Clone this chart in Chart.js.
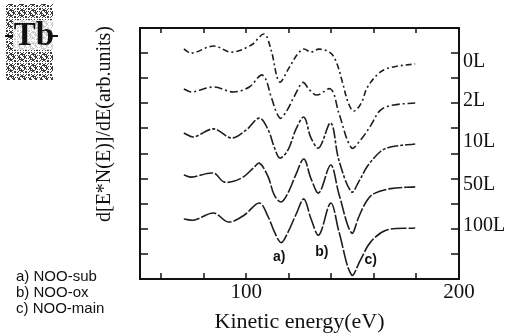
<!DOCTYPE html>
<html>
<head>
<meta charset="utf-8">
<script src="https://cdn.jsdelivr.net/npm/chart.js@4/dist/chart.umd.min.js"></script>
<style>
  html, body { margin: 0; padding: 0; background: #fff; }
  #wrap { width: 511px; height: 336px; }
</style>
</head>
<body>
<div id="wrap"><canvas id="auger"></canvas></div>
<script>
// exposure labels, one per curve (top to bottom)
const exposures = ['0L', '2L', '10L', '50L', '100L'];

// kinetic energy (eV) and offset d[E*N(E)]/dE values
const e0L = [70.6, 74.3, 84.6, 93.0, 102.3, 108.4, 111.7, 115.6, 120.0, 124.0, 127.0, 130.4, 134.1, 139.7, 142.5, 145.0, 148.0, 150.5, 154.0, 157.0, 163.1, 169.2, 179.4];
const v0L = [9.16, 9.00, 9.28, 9.04, 9.32, 9.76, 9.10, 7.85, 8.40, 8.95, 9.16, 9.04, 9.16, 9.00, 8.60, 7.90, 7.00, 6.69, 7.00, 7.65, 8.25, 8.45, 8.57];

const e2L = [70.6, 74.3, 84.6, 93.9, 101.4, 107.0, 109.3, 111.7, 115.8, 119.0, 122.4, 126.6, 129.5, 133.2, 139.7, 143.5, 149.5, 153.7, 158.4, 163.1, 169.2, 179.4];
const v2L = [7.57, 7.45, 7.65, 7.45, 7.65, 8.13, 7.93, 7.25, 6.41, 6.70, 7.25, 7.83, 7.55, 7.33, 7.57, 6.61, 5.22, 5.54, 6.10, 6.73, 6.93, 7.01];

const e10L = [70.6, 75.2, 84.6, 93.0, 100.0, 106.1, 110.3, 113.1, 115.8, 119.6, 123.4, 127.1, 130.4, 134.1, 139.7, 143.5, 149.5, 153.0, 157.0, 163.1, 167.8, 179.4];
const v10L = [5.82, 5.66, 5.98, 5.62, 5.94, 6.41, 5.94, 5.26, 4.82, 5.14, 5.98, 6.45, 5.62, 5.22, 6.22, 4.74, 3.47, 3.90, 4.50, 5.08, 5.26, 5.38];

const e50L = [70.6, 74.3, 84.6, 89.7, 97.7, 103.3, 106.1, 110.3, 113.1, 116.4, 119.6, 123.5, 127.1, 130.4, 134.1, 139.7, 143.5, 149.5, 153.0, 156.5, 160.0, 167.8, 179.4];
const v50L = [4.14, 4.06, 4.22, 3.86, 4.02, 4.42, 4.62, 4.06, 3.35, 3.07, 3.43, 4.20, 4.78, 4.00, 3.43, 4.54, 3.40, 1.83, 2.50, 3.10, 3.40, 3.60, 3.67];

const e100L = [70.6, 75.7, 84.6, 91.6, 99.1, 106.1, 110.3, 113.1, 116.4, 119.6, 123.5, 127.1, 130.4, 134.1, 139.7, 143.5, 149.5, 153.7, 158.4, 166.0, 179.4];
const v100L = [2.39, 2.35, 2.63, 2.27, 2.55, 3.03, 2.47, 1.90, 1.45, 1.87, 2.60, 3.19, 2.40, 1.75, 3.03, 1.90, 0.16, 0.76, 1.47, 1.95, 2.03];

// axis ticks
const xTicks = [60, 80, 100, 120, 140, 160, 180];
const xTickLabels = [100, 200];
const yTicks = [1, 2, 3, 4, 5, 6, 7, 8, 9];

// peak markers a) b) c)
const markText = ['a)', 'b)', 'c)'];
const markE = [115.5, 135.5, 158.5];
const markV = [0.88, 1.08, 0.76];

const legendLines = ['a) NOO-sub', 'b) NOO-ox', 'c) NOO-main'];

const curveE = [e0L, e2L, e10L, e50L, e100L];
const curveV = [v0L, v2L, v10L, v50L, v100L];
const dashes = [[6, 3, 2, 3], [8, 3, 2, 3], [11, 2, 3, 2], [14, 2], [16, 2]];

const datasets = curveE.map(function(es, i) {
    return {
        label: exposures[i],
        data: es.map(function(e, k) { return { x: e, y: curveV[i][k] }; }),
        borderColor: '#1e1e1e',
        borderWidth: 1.6,
        borderDash: dashes[i],
        pointRadius: 0,
        fill: false,
        tension: 0.35
    };
});

const serif = '"Liberation Serif", "DejaVu Serif", serif';
const sans = '"Liberation Sans", Arial, sans-serif';

const decorations = {
    id: 'decorations',
    afterDraw: function(chart) {
        const ctx = chart.ctx;
        const a = chart.chartArea;
        const xs = chart.scales.x;
        const ys = chart.scales.y;
        ctx.save();

        // frame
        ctx.strokeStyle = '#111';
        ctx.lineWidth = 2;
        ctx.strokeRect(a.left, a.top, a.right - a.left, a.bottom - a.top);

        // inward ticks
        ctx.lineWidth = 1.5;
        ctx.beginPath();
        xTicks.forEach(function(t) {
            const px = Math.round(xs.getPixelForValue(t));
            ctx.moveTo(px, a.bottom); ctx.lineTo(px, a.bottom - 6);
            ctx.moveTo(px, a.top); ctx.lineTo(px, a.top + 5);
        });
        yTicks.forEach(function(t) {
            const py = Math.round(ys.getPixelForValue(t));
            ctx.moveTo(a.left, py); ctx.lineTo(a.left + 8, py);
            ctx.moveTo(a.right, py); ctx.lineTo(a.right - 8, py);
        });
        ctx.stroke();

        // x tick labels and title
        ctx.fillStyle = '#111';
        ctx.font = '21px ' + serif;
        ctx.textAlign = 'center';
        ctx.textBaseline = 'middle';
        xTickLabels.forEach(function(t) {
            ctx.fillText(String(t), xs.getPixelForValue(t), a.bottom + 13);
        });
        ctx.font = '22px ' + serif;
        ctx.fillText('Kinetic energy(eV)', (a.left + a.right) / 2, a.bottom + 43);

        // y title
        ctx.save();
        ctx.translate(a.left - 35, a.top + 96);
        ctx.rotate(-Math.PI / 2);
        ctx.font = '20px ' + serif;
        ctx.fillText('d[E*N(E)]/dE(arb.units)', 0, 0);
        ctx.restore();

        // exposure labels at the end of each curve
        ctx.font = '20px ' + serif;
        ctx.textAlign = 'left';
        curveV.forEach(function(vs, i) {
            const py = ys.getPixelForValue(vs[vs.length - 1]);
            ctx.fillText(exposures[i], a.right + 4, py - 2);
        });

        // a) b) c) marks
        ctx.font = 'bold 14px ' + sans;
        ctx.textAlign = 'center';
        markText.forEach(function(t, i) {
            ctx.fillText(t, xs.getPixelForValue(markE[i]), ys.getPixelForValue(markV[i]));
        });

        // legend text at the lower left
        ctx.font = '15px ' + sans;
        ctx.textAlign = 'left';
        legendLines.forEach(function(t, i) {
            ctx.fillText(t, 16, 277 + i * 16);
        });

        // "Tb" stamp with a halftone background
        ctx.fillStyle = '#fff';
        ctx.fillRect(5, 4, 48, 76);
        ctx.fillStyle = '#3a3a3a';
        for (let gx = 5; gx < 53; gx += 1) {
            for (let gy = 4; gy < 80; gy += 1) {
                if (((gx * 17 + gy * 31 + gx * gy * 7) % 11) < 5) ctx.fillRect(gx, gy, 1, 1);
            }
        }
        ctx.fillStyle = 'rgba(255,255,255,0.75)';
        ctx.fillRect(13, 20, 40, 30);
        ctx.fillStyle = '#111';
        ctx.font = 'bold 33px ' + serif;
        ctx.textAlign = 'center';
        ctx.fillText('Tb', 34, 36);
        ctx.fillRect(5, 35, 8, 2);
        ctx.fillRect(52, 35, 6, 2);

        ctx.restore();
    }
};

document.addEventListener('DOMContentLoaded', function() {
    const ctx = document.getElementById('auger').getContext('2d');
    new Chart(ctx, {
        type: 'line',
        data: { datasets: datasets },
        options: {
            responsive: true,
            maintainAspectRatio: false,
            animation: false,
            layout: { padding: { left: 140, right: 52, top: 28, bottom: 57 } },
            plugins: { legend: { display: false }, tooltip: { enabled: false } },
            scales: {
                x: { type: 'linear', min: 50, max: 200, display: false },
                y: { min: 0, max: 10, display: false }
            }
        },
        plugins: [decorations]
    });
});
</script>
</body>
</html>
